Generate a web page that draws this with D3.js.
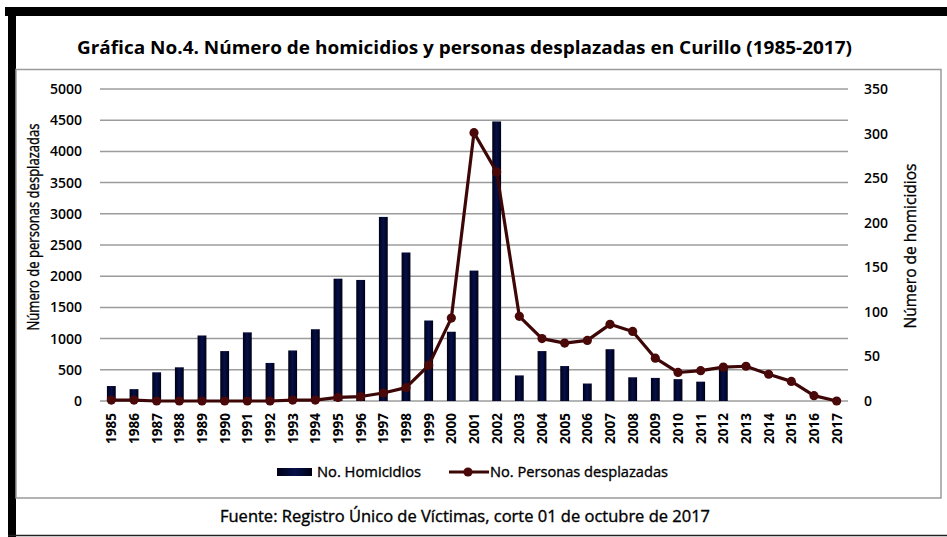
<!DOCTYPE html>
<html lang="es">
<head>
<meta charset="UTF-8">
<title>Gráfica No.4 - Curillo</title>
<style>
  body { margin: 0; background: #fff; }
  svg text { font-family: "Open Sans", "Noto Sans", sans-serif; fill: #000; }
  svg text.heavy { stroke: #000; stroke-width: 0.35px; }
</style>
</head>
<body>
<div id="chart"></div>
<script src="https://d3js.org/d3.v7.min.js"></script>
<script>
    // Data
    var years = ["1985","1986","1987","1988","1989","1990","1991","1992","1993","1994",
                 "1995","1996","1997","1998","1999","2000","2001","2002","2003","2004",
                 "2005","2006","2007","2008","2009","2010","2011","2012","2013","2014",
                 "2015","2016","2017"];
    // bars, read against the left axis (0-5000)
    var homicidios = [240, 190, 460, 540, 1050, 800, 1100, 610, 810, 1150,
                      1960, 1940, 2950, 2380, 1290, 1110, 2090, 4480, 410, 800,
                      560, 280, 830, 380, 370, 350, 310, 560, 0, 0,
                      0, 0, 0];
    // line, read against the right axis (0-350)
    var desplazadas = [1, 1, 0, 0, 0, 0, 0, 0, 1, 1,
                       4, 5, 9, 15, 40, 93, 301, 257, 95, 70,
                       65, 68, 86, 78, 48, 32, 34, 38, 39, 30,
                       22, 6, 0];
    var leftTicks = [0, 500, 1000, 1500, 2000, 2500, 3000, 3500, 4000, 4500, 5000];
    var rightTicks = [0, 50, 100, 150, 200, 250, 300, 350];

    var W = 947, H = 537;
    var plot = {left: 100, right: 848, top: 89, bottom: 401};

    var svg = d3.select("#chart").append("svg")
        .attr("width", W)
        .attr("height", H);

    // bar gradient (dark navy, slightly bluer in the middle)
    var grad = svg.append("defs").append("linearGradient")
        .attr("id", "barGrad").attr("x1", "0").attr("x2", "1").attr("y1", "0").attr("y2", "0");
    grad.append("stop").attr("offset", "0").attr("stop-color", "#000014");
    grad.append("stop").attr("offset", "0.5").attr("stop-color", "#06104a");
    grad.append("stop").attr("offset", "1").attr("stop-color", "#000014");

    // frame: black bands, gray chart box, bottom rule
    svg.append("rect").attr("x", 5).attr("y", 7).attr("width", W - 5).attr("height", 9).attr("fill", "#000");
    svg.append("rect").attr("x", 8).attr("y", 7).attr("width", 8).attr("height", H - 7).attr("fill", "#000");
    svg.append("rect").attr("x", 16).attr("y", 69.5).attr("width", 925).attr("height", 428.5)
        .attr("fill", "none").attr("stroke", "#9a9a9a").attr("stroke-width", 1.5);
    svg.append("line").attr("x1", 8).attr("x2", W).attr("y1", 535.5).attr("y2", 535.5)
        .attr("stroke", "#222").attr("stroke-width", 1.5);

    // title
    svg.append("text")
        .attr("x", 77).attr("y", 54)
        .attr("textLength", 775).attr("lengthAdjust", "spacingAndGlyphs")
        .style("font-size", "18px").style("font-weight", "700")
        .text("Gráfica No.4. Número de homicidios y personas desplazadas en Curillo (1985-2017)");

    // scales
    var x = d3.scaleBand().domain(years).range([plot.left, plot.right]).padding(0);
    var yL = d3.scaleLinear().domain([0, 5000]).range([plot.bottom, plot.top]);
    var yR = d3.scaleLinear().domain([0, 350]).range([plot.bottom, plot.top]);

    // gridlines
    svg.append("g").selectAll("line")
        .data(leftTicks)
        .join("line")
        .attr("x1", plot.left).attr("x2", plot.right)
        .attr("y1", d => yL(d)).attr("y2", d => yL(d))
        .attr("stroke", "#9c9c9c").attr("stroke-width", 1.5);

    // left axis
    var gL = svg.append("g")
        .attr("transform", "translate(" + plot.left + ",0)")
        .call(d3.axisLeft(yL).tickValues(leftTicks).tickFormat(d3.format("d")).tickSize(0).tickPadding(18));
    gL.select(".domain").remove();
    gL.selectAll("text").style("font-size", "14px").style("font-weight", "600")
        .style("font-family", "\"Open Sans\", sans-serif").attr("fill", "#000");

    // right axis
    var gR = svg.append("g")
        .attr("transform", "translate(" + plot.right + ",0)")
        .call(d3.axisRight(yR).tickValues(rightTicks).tickFormat(d3.format("d")).tickSize(0).tickPadding(16));
    gR.select(".domain").remove();
    gR.selectAll("text").style("font-size", "14px").style("font-weight", "600")
        .style("font-family", "\"Open Sans\", sans-serif").attr("fill", "#000");

    // bottom axis, rotated year labels
    var gX = svg.append("g")
        .attr("transform", "translate(0," + plot.bottom + ")")
        .call(d3.axisBottom(x).tickSize(0));
    gX.select(".domain").remove();
    gX.selectAll("text")
        .attr("transform", "rotate(-90)")
        .attr("x", -12).attr("y", 0).attr("dy", "0.36em")
        .style("text-anchor", "end")
        .style("font-size", "13.5px").style("font-weight", "700")
        .style("font-family", "\"Open Sans\", sans-serif").attr("fill", "#000");

    // axis titles
    svg.append("text")
        .attr("class", "heavy")
        .attr("transform", "translate(39,227) rotate(-90)")
        .attr("text-anchor", "middle")
        .attr("textLength", 207).attr("lengthAdjust", "spacingAndGlyphs")
        .style("font-size", "17px")
        .text("Número de personas desplazadas");
    svg.append("text")
        .attr("class", "heavy")
        .attr("transform", "translate(916,246) rotate(-90)")
        .attr("text-anchor", "middle")
        .attr("textLength", 165).attr("lengthAdjust", "spacingAndGlyphs")
        .style("font-size", "17px")
        .text("Número de homicidios");

    // bars
    var bw = x.bandwidth() * 0.39;
    svg.append("g").selectAll("rect")
        .data(years.map((y, i) => ({year: y, v: homicidios[i]})))
        .join("rect")
        .attr("x", d => x(d.year) + (x.bandwidth() - bw) / 2)
        .attr("y", d => yL(d.v))
        .attr("width", bw)
        .attr("height", d => yL(0) - yL(d.v))
        .attr("fill", "url(#barGrad)");

    // line + markers
    var pts = years.map((y, i) => ({year: y, v: desplazadas[i]}));
    var line = d3.line()
        .x(d => x(d.year) + x.bandwidth() / 2)
        .y(d => yR(d.v));
    svg.append("path")
        .datum(pts)
        .attr("d", line)
        .attr("fill", "none")
        .attr("stroke", "#3d0707")
        .attr("stroke-width", 3.2)
        .attr("stroke-linejoin", "round");
    svg.append("g").selectAll("circle")
        .data(pts)
        .join("circle")
        .attr("cx", d => x(d.year) + x.bandwidth() / 2)
        .attr("cy", d => yR(d.v))
        .attr("r", 4.6)
        .attr("fill", "#4a0808");

    // legend
    var lg = svg.append("g");
    lg.append("rect").attr("x", 277).attr("y", 468).attr("width", 35).attr("height", 8).attr("fill", "url(#barGrad)");
    lg.append("text").attr("class", "heavy").attr("x", 317).attr("y", 477)
        .attr("textLength", 104).attr("lengthAdjust", "spacingAndGlyphs")
        .style("font-size", "14.5px").text("No. Homicidios");
    lg.append("line").attr("x1", 449).attr("x2", 489).attr("y1", 472).attr("y2", 472)
        .attr("stroke", "#3d0707").attr("stroke-width", 3.2);
    lg.append("circle").attr("cx", 468).attr("cy", 472).attr("r", 4.6).attr("fill", "#4a0808");
    lg.append("text").attr("class", "heavy").attr("x", 490).attr("y", 477)
        .attr("textLength", 178).attr("lengthAdjust", "spacingAndGlyphs")
        .style("font-size", "14.5px").text("No. Personas desplazadas");

    // source note
    svg.append("text")
        .attr("class", "heavy")
        .attr("x", 220).attr("y", 522)
        .attr("textLength", 490).attr("lengthAdjust", "spacingAndGlyphs")
        .style("font-size", "15.5px")
        .text("Fuente: Registro Único de Víctimas, corte 01 de octubre de 2017");
</script>
</body>
</html>
